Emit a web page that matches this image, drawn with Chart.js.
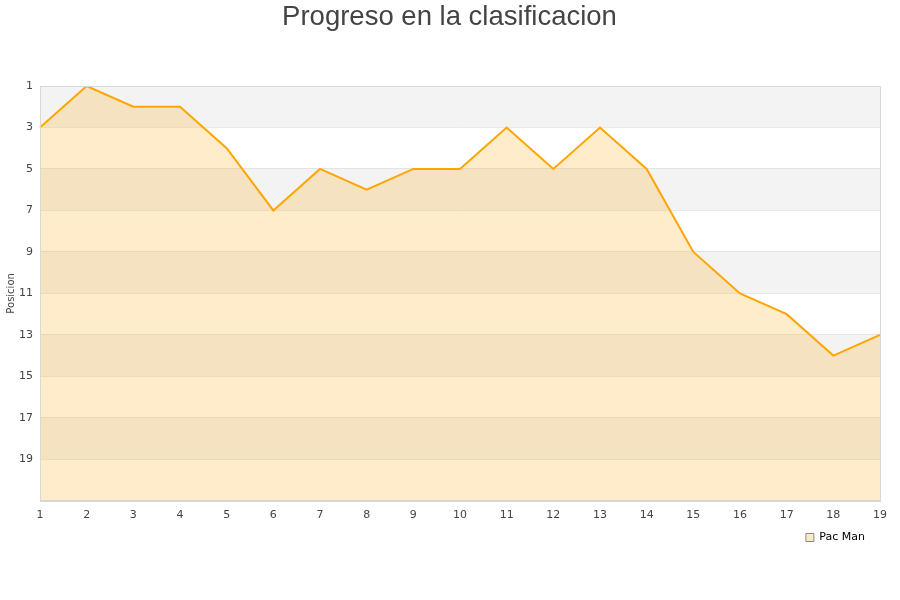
<!DOCTYPE html>
<html>
<head>
<meta charset="utf-8">
<script src="https://cdn.jsdelivr.net/npm/chart.js@4/dist/chart.umd.min.js"></script>
<style>
  body { margin: 0; background: #fff; }
  #wrap { width: 900px; height: 600px; }
</style>
</head>
<body>
<div id="wrap"><canvas id="rankChart" width="900" height="600"></canvas></div>
<script>
// jornadas y posicion
const rounds = ['1','2','3','4','5','6','7','8','9','10','11','12','13','14','15','16','17','18','19'];
const positions = [3, 1, 2, 2, 4, 7, 5, 6, 5, 5, 3, 5, 3, 5, 9, 11, 12, 14, 13];
const yTicks = [1, 3, 5, 7, 9, 11, 13, 15, 17, 19];

// alternate bands behind the data + frame + rotated axis title
const bandPlugin = {
  id: 'bands',
  afterLayout(chart) {
    // nudge legend a bit left like the original
    chart.legend.left -= 13;
    chart.legend.right -= 13;
  },
  beforeDatasetsDraw(chart) {
    const { ctx, chartArea, scales } = chart;
    const y = scales.y;
    ctx.save();
    ctx.fillStyle = '#f3f3f3';
    for (let v = 1; v < 21; v += 4) {
      const top = y.getPixelForValue(v);
      const bot = y.getPixelForValue(v + 2);
      ctx.fillRect(chartArea.left, top, chartArea.right - chartArea.left, bot - top);
    }
    ctx.restore();
  },
  afterDraw(chart) {
    const { ctx, chartArea } = chart;
    ctx.save();
    ctx.strokeStyle = '#d8d8d8';
    ctx.lineWidth = 1;
    ctx.strokeRect(Math.round(chartArea.left) + 0.5, Math.round(chartArea.top) + 0.5,
      Math.round(chartArea.right - chartArea.left), Math.round(chartArea.bottom - chartArea.top));
    ctx.translate(11, (chartArea.top + chartArea.bottom) / 2);
    ctx.rotate(-Math.PI / 2);
    ctx.fillStyle = '#444';
    ctx.font = '10px "DejaVu Sans"';
    ctx.textAlign = 'center';
    ctx.textBaseline = 'middle';
    ctx.fillText('Posicion', 0, 0);
    ctx.restore();
  }
};

new Chart(document.getElementById('rankChart'), {
  type: 'line',
  data: {
    labels: rounds,
    datasets: [{
      label: 'Pac Man',
      data: positions,
      borderColor: '#ffa500',
      backgroundColor: 'rgba(255, 170, 20, 0.22)',
      borderWidth: 2,
      pointRadius: 0,
      tension: 0,
      fill: { value: 21 }
    }]
  },
  options: {
    responsive: false,
    animation: false,
    layout: { padding: { left: 19, right: 20, top: 0, bottom: 47 } },
    plugins: {
      title: {
        display: true,
        text: 'Progreso en la clasificacion',
        color: '#444',
        font: { family: 'Liberation Sans', size: 27.5, weight: 'normal' },
        padding: { top: 1, bottom: 52 }
      },
      legend: {
        display: true,
        position: 'bottom',
        align: 'end',
        labels: {
          boxWidth: 8,
          boxHeight: 8,
          padding: 2,
          color: '#222',
          font: { family: 'DejaVu Sans', size: 11 },
          generateLabels(chart) {
            return [{
              text: 'Pac Man',
              fillStyle: '#fde9c4',
              strokeStyle: '#888',
              lineWidth: 1,
              datasetIndex: 0
            }];
          }
        }
      },
      tooltip: { enabled: false }
    },
    scales: {
      x: {
        offset: false,
        border: { color: '#d8d8d8' },
        grid: { display: false, drawTicks: false },
        ticks: { color: '#444', padding: 8, maxRotation: 0, font: { family: 'DejaVu Sans', size: 11 } }
      },
      y: {
        reverse: true,
        min: 1,
        max: 21,
        afterBuildTicks(axis) {
          axis.ticks = yTicks.map(v => ({ value: v }));
        },
        afterFit(axis) {
          axis.width = 21;
        },
        border: { color: '#d8d8d8' },
        grid: { color: '#e2e2e2', drawTicks: false },
        ticks: { color: '#444', padding: 7, font: { family: 'DejaVu Sans', size: 11 } }
      }
    }
  },
  plugins: [bandPlugin]
});
</script>
</body>
</html>
